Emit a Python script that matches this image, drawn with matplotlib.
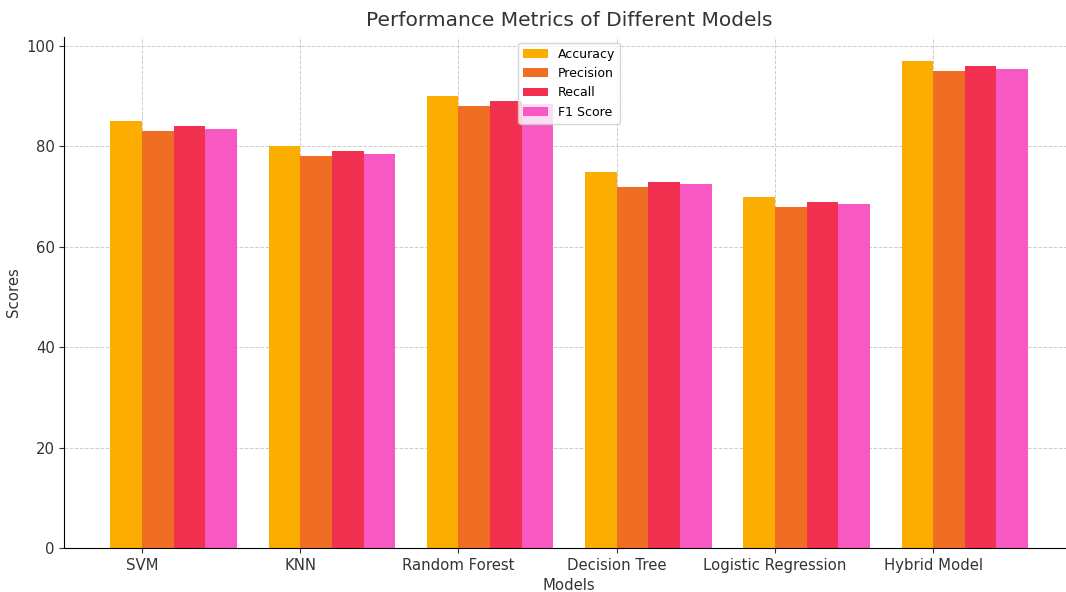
import matplotlib
matplotlib.use("Agg")
import matplotlib.pyplot as plt
import numpy as np

models = ["SVM", "KNN", "Random Forest", "Decision Tree", "Logistic Regression", "Hybrid Model"]
accuracy = [85, 80, 90, 75, 70, 97]
precision = [83, 78, 88, 72, 68, 95]
recall = [84, 79, 89, 73, 69, 96]
f1_score = [83.5, 78.5, 88.5, 72.5, 68.5, 95.5]

metric_names = ["Accuracy", "Precision", "Recall", "F1 Score"]
colors = ["#FBAD00", "#F06E24", "#F2304F", "#F758C2"]

fig = plt.figure(figsize=(10.66, 5.92), dpi=100)
ax = fig.add_axes([0.0605, 0.074, 0.947, 0.864])

x = np.arange(len(models))
width = 0.2
for i, (vals, name, c) in enumerate(zip([accuracy, precision, recall, f1_score], metric_names, colors)):
    ax.bar(x + i * width, vals, width, label=name, color=c)

ax.set_xticks(x + width / 2)
ax.set_xticklabels(models, fontsize=10.7)
ax.tick_params(axis='y', labelsize=10.7)
ax.set_xlabel("Models", fontsize=10.7, color="#333333")
ax.set_ylabel("Scores", fontsize=10.7, color="#333333")
ax.set_title("Performance Metrics of Different Models", fontsize=14.5, color="#333333", pad=8)
ax.grid(True, linestyle="--", color="#cccccc", linewidth=0.7)
ax.set_axisbelow(True)
for s in ["top", "right"]:
    ax.spines[s].set_visible(False)
ax.tick_params(colors="#333333")
ax.legend(loc="upper center", fontsize=9, framealpha=0.8)

fig.savefig("out.png", dpi=100)
